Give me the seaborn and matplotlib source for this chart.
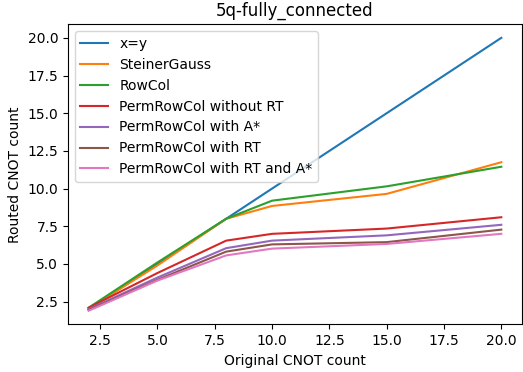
import pandas as pd
import numpy as np
import matplotlib
matplotlib.use('Agg')
import matplotlib.pyplot as plt
import seaborn as sns

original = [2, 5, 8, 10, 15, 20]

x_eq_y = [2, 5, 8, 10, 15, 20]
steiner_gauss = [2.05, 4.9, 8.0, 8.85, 9.65, 11.75]
rowcol = [2.1, 5.1, 8.0, 9.2, 10.15, 11.45]
perm_without_rt = [2.1, 4.4, 6.55, 7.0, 7.35, 8.1]
perm_astar = [2.0, 4.1, 6.05, 6.55, 6.9, 7.6]
perm_rt = [1.95, 3.95, 5.82, 6.3, 6.45, 7.28]
perm_rt_astar = [1.9, 3.9, 5.57, 6.02, 6.33, 7.0]

series = {
    'x=y': x_eq_y,
    'SteinerGauss': steiner_gauss,
    'RowCol': rowcol,
    'PermRowCol without RT': perm_without_rt,
    'PermRowCol with A*': perm_astar,
    'PermRowCol with RT': perm_rt,
    'PermRowCol with RT and A*': perm_rt_astar,
}

df = pd.concat([
    pd.DataFrame({'Original CNOT count': original, 'Routed CNOT count': vals, 'method': name})
    for name, vals in series.items()
], ignore_index=True)

fig, ax = plt.subplots(figsize=(5.23, 3.72), dpi=100)
fig.subplots_adjust(left=0.13, right=0.998, top=0.935, bottom=0.128)

sns.lineplot(data=df, x='Original CNOT count', y='Routed CNOT count', hue='method',
             palette=sns.color_palette('tab10', len(series)), ax=ax)

ax.set_title('5q-fully_connected')
ax.legend(title=None, loc='upper left')

plt.savefig('out.png', dpi=100)
